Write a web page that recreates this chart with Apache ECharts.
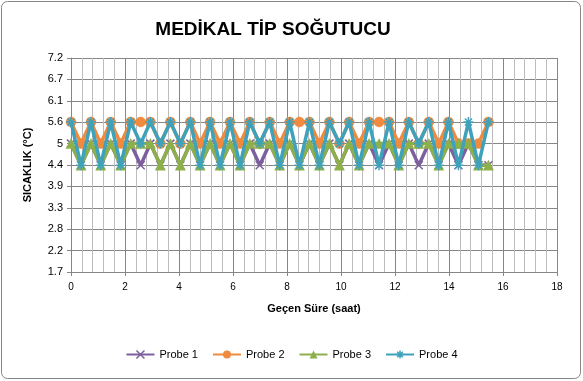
<!DOCTYPE html>
<html>
<head>
<meta charset="utf-8">
<script src="https://cdn.jsdelivr.net/npm/echarts@6/dist/echarts.min.js"></script>
<style>
  html, body { margin: 0; padding: 0; background: #fff; }
  #chart { width: 583px; height: 381px; }
</style>
</head>
<body>
<div id="chart"></div>
<script>
// Elapsed time (hours)
const times = [0, 0.37, 0.74, 1.1, 1.47, 1.84, 2.21, 2.58, 2.94, 3.31, 3.68, 4.05, 4.42, 4.78, 5.15, 5.52, 5.89, 6.26, 6.62, 6.99, 7.36, 7.73, 8.1, 8.46, 8.83, 9.2, 9.57, 9.94, 10.3, 10.67, 11.04, 11.41, 11.78, 12.14, 12.51, 12.88, 13.25, 13.62, 13.98, 14.35, 14.72, 15.09, 15.46];

const probe1 = [5.0, 4.44, 5.0, 4.44, 5.0, 4.44, 5.0, 4.44, 5.0, 4.44, 5.0, 4.44, 5.0, 4.44, 5.0, 4.44, 5.0, 4.44, 5.0, 4.44, 5.0, 4.44, 5.0, 4.44, 5.0, 4.44, 5.0, 4.44, 5.0, 4.44, 5.0, 4.44, 5.0, 4.44, 5.0, 4.44, 5.0, 4.44, 5.0, 4.44, 5.0, 4.44, 4.44];
const probe2 = [5.56, 5.0, 5.56, 5.0, 5.56, 5.0, 5.56, 5.56, 5.56, 5.0, 5.56, 5.0, 5.56, 5.0, 5.56, 5.0, 5.56, 5.0, 5.56, 5.0, 5.56, 5.0, 5.56, 5.56, 5.56, 5.0, 5.56, 5.0, 5.56, 5.0, 5.56, 5.56, 5.56, 5.0, 5.56, 5.0, 5.56, 5.0, 5.56, 5.0, 5.0, 5.0, 5.56];
const probe3 = [5.0, 4.44, 5.0, 4.44, 5.0, 4.44, 5.0, 5.0, 5.0, 4.44, 5.0, 4.44, 5.0, 4.44, 5.0, 4.44, 5.0, 4.44, 5.0, 5.0, 5.0, 4.44, 5.0, 4.44, 5.0, 4.44, 5.0, 4.44, 5.0, 4.44, 5.0, 5.0, 5.0, 4.44, 5.0, 5.0, 5.0, 4.44, 5.0, 5.0, 5.0, 4.44, 4.44];
const probe4 = [5.56, 4.44, 5.56, 4.44, 5.56, 4.44, 5.56, 5.0, 5.56, 5.0, 5.56, 5.0, 5.56, 4.44, 5.56, 4.44, 5.56, 4.44, 5.56, 5.0, 5.56, 4.44, 5.56, 4.44, 5.56, 4.44, 5.56, 5.0, 5.56, 4.44, 5.56, 4.44, 5.56, 4.44, 5.56, 5.0, 5.56, 4.44, 5.56, 4.44, 5.56, 4.44, 5.56];

const seriesNames = ['Probe 1', 'Probe 2', 'Probe 3', 'Probe 4'];
const yTickLabels = ['1.7', '2.2', '2.8', '3.3', '3.9', '4.4', '5', '5.6', '6.1', '6.7', '7.2'];
const xTickLabels = ['0', '2', '4', '6', '8', '10', '12', '14', '16', '18'];

const Y_MIN = 5 / 3, Y_STEP = 5 / 9, Y_MAX = 65 / 9;

const colors = ['#7D5F9E', '#F08A3E', '#8DB04A', '#3FA2BA'];
const symbols = [
  'path://M0,0L10,10M10,0L0,10',
  'circle',
  'triangle',
  'path://M5,0L5,10M0,5L10,5M1.5,1.5L8.5,8.5M8.5,1.5L1.5,8.5'
];
const symbolSizes = [8, 10, 10, 10];
const allData = [probe1, probe2, probe3, probe4];

const chart = echarts.init(document.getElementById('chart'), null, { renderer: 'canvas' });

const series = allData.map((vals, k) => ({
  name: seriesNames[k],
  type: 'line',
  data: times.map((t, i) => [t, vals[i]]),
  symbol: symbols[k],
  symbolSize: symbolSizes[k],
  showAllSymbol: true,
  lineStyle: { color: colors[k], width: 3.5 },
  itemStyle: { color: colors[k], borderColor: colors[k], borderWidth: (k === 0 || k === 3) ? 1.5 : 0.5 },
  emphasis: { disabled: true },
  animation: false,
  z: 2 + k
}));

chart.setOption({
  animation: false,
  backgroundColor: '#fff',
  title: {
    text: 'MEDİKAL TİP SOĞUTUCU',
    left: 268, top: 15, textAlign: 'center',
    textStyle: { fontFamily: 'Liberation Sans', fontSize: 19, fontWeight: 'bold', color: '#000' }
  },
  graphic: [{
    type: 'rect', silent: true, z: -1,
    shape: { x: 1.5, y: 1.5, width: 579, height: 377, r: 6 },
    style: { fill: null, stroke: '#868686', lineWidth: 1 }
  }],
  legend: {
    data: seriesNames.map((n, k) => ({
      name: n,
      itemStyle: { color: colors[k], borderColor: colors[k], borderWidth: (k === 0 || k === 3) ? 1.5 : 0 }
    })),
    bottom: 16, left: 'center',
    itemWidth: 28, itemHeight: 10, itemGap: 14,
    textStyle: { fontFamily: 'Liberation Sans', fontSize: 11, color: '#000' }
  },
  grid: { left: 71, top: 58, right: 26, bottom: 109, containLabel: false },
  xAxis: {
    type: 'value', min: 0, max: 18, interval: 2,
    name: 'Geçen Süre (saat)', nameLocation: 'middle', nameGap: 31,
    nameTextStyle: { fontFamily: 'Liberation Sans', fontSize: 11, fontWeight: 'bold', color: '#000' },
    axisLine: { show: true, lineStyle: { color: '#868686', width: 1 } },
    axisTick: { show: true, length: 4, inside: false, lineStyle: { color: '#868686' } },
    axisLabel: { fontFamily: 'Liberation Sans', fontSize: 10, color: '#000', margin: 10,
      formatter: v => xTickLabels[Math.round(v / 2)] },
    splitLine: { show: true, lineStyle: { color: '#868686', width: 1 } },
    minorTick: { show: false, splitNumber: 5 },
    minorSplitLine: { show: true, lineStyle: { color: '#bdbdbd', width: 1 } }
  },
  yAxis: {
    type: 'value', min: Y_MIN, max: Y_MAX, interval: Y_STEP,
    name: 'SICAKLIK (°C)', nameLocation: 'middle', nameGap: 38, nameRotate: 90,
    nameTextStyle: { fontFamily: 'Liberation Sans', fontSize: 11, fontWeight: 'bold', color: '#000' },
    axisLine: { show: true, lineStyle: { color: '#868686', width: 1 } },
    axisTick: { show: true, length: 4, inside: false, lineStyle: { color: '#868686' } },
    axisLabel: { fontFamily: 'Liberation Sans', fontSize: 11, color: '#000', margin: 8,
      formatter: v => yTickLabels[Math.round((v - Y_MIN) / Y_STEP)] },
    splitLine: { show: true, lineStyle: { color: '#868686', width: 1 } }
  },
  series: series
});
</script>
</body>
</html>
